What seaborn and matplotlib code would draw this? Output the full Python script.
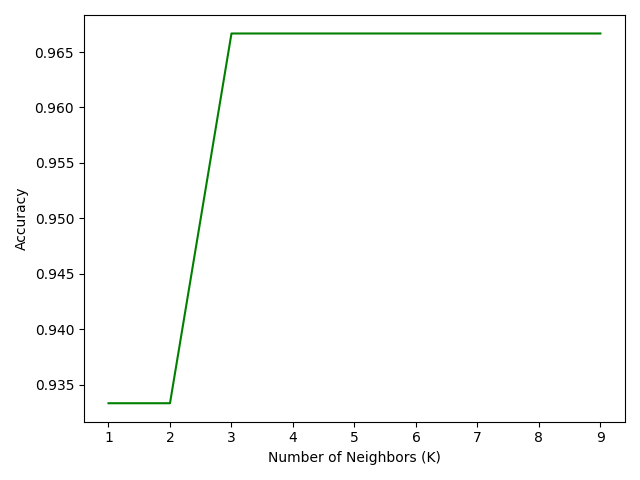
import matplotlib
matplotlib.use("Agg")
import matplotlib.pyplot as plt
import seaborn as sns
import pandas as pd

k_values = [1, 2, 3, 4, 5, 6, 7, 8, 9]
accuracy = [0.93333, 0.93333, 0.96667, 0.96667, 0.96667, 0.96667, 0.96667, 0.96667, 0.96667]

df = pd.DataFrame({"K": k_values, "Accuracy": accuracy})

fig, ax = plt.subplots(figsize=(6.4, 4.8), dpi=100)
sns.lineplot(data=df, x="K", y="Accuracy", color="green", ax=ax)
ax.set_xlabel("Number of Neighbors (K)")
ax.set_ylabel("Accuracy")
ax.set_xticks(k_values)
fig.tight_layout()
fig.savefig("out.png", dpi=100)
